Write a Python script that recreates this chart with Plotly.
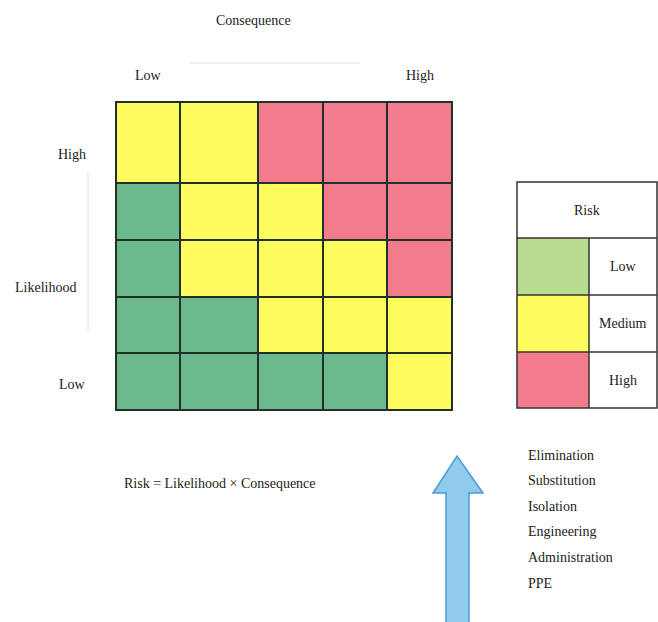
import plotly.graph_objects as go

# ---------------- data ----------------
consequence_levels = ["Low", "", "", "", "High"]          # left -> right
likelihood_levels = ["High", "", "", "", "Low"]           # top -> bottom
# risk rating of each cell, rows from High likelihood (top) to Low (bottom)
risk_grid = [
    ["Medium", "Medium", "High",   "High",   "High"],
    ["Low",    "Medium", "Medium", "High",   "High"],
    ["Low",    "Medium", "Medium", "Medium", "High"],
    ["Low",    "Low",    "Medium", "Medium", "Medium"],
    ["Low",    "Low",    "Low",    "Low",    "Medium"],
]
risk_levels = ["Low", "Medium", "High"]
controls = ["Elimination", "Substitution", "Isolation", "Engineering",
            "Administration", "PPE"]
formula = "Risk = Likelihood × Consequence"

# ---------------- layout constants (page pixels) ----------------
W, H = 658, 622
col_edges = [116, 180, 258, 323, 387, 452]
row_edges = [102, 183, 240, 297, 353, 410]
leg_x = [517, 589, 657]
leg_y = [182, 238, 295, 352, 408]

FONT = "Liberation Serif"
TXT = "#222222"
matrix_colors = {"Low": "#6db98e", "Medium": "#fefc5e", "High": "#f27b8e"}
legend_colors = {"Low": "#b9dc8e", "Medium": "#fefc5e", "High": "#f27b8e"}

code = {lvl: i for i, lvl in enumerate(risk_levels)}
z = [[code[v] for v in row] for row in risk_grid]

def scale(cmap):
    return [[0.0, cmap["Low"]], [0.5, cmap["Medium"]], [1.0, cmap["High"]]]

fig = go.Figure()

fig.add_trace(go.Heatmap(
    x=col_edges, y=row_edges, z=z, zmin=0, zmax=2,
    colorscale=scale(matrix_colors), showscale=False,
    xgap=2, ygap=2, hoverinfo="skip",
))

fig.add_trace(go.Heatmap(
    x=leg_x[:2], y=leg_y[1:], z=[[code[l]] for l in risk_levels],
    zmin=0, zmax=2, colorscale=scale(legend_colors), showscale=False,
    hoverinfo="skip",
))

shapes = []
shapes.append(dict(type="rect", layer="below", x0=col_edges[0] - 1, x1=col_edges[-1] + 1,
                   y0=row_edges[0] - 1, y1=row_edges[-1] + 1,
                   fillcolor="#23302a", line=dict(width=0)))
LC = "#333333"
shapes.append(dict(type="rect", x0=leg_x[0], x1=leg_x[2], y0=leg_y[0], y1=leg_y[-1],
                   line=dict(color=LC, width=1.5)))
for yy in leg_y[1:-1]:
    shapes.append(dict(type="line", x0=leg_x[0], x1=leg_x[2], y0=yy, y1=yy,
                       line=dict(color=LC, width=1.5)))
shapes.append(dict(type="line", x0=leg_x[1], x1=leg_x[1], y0=leg_y[1], y1=leg_y[-1],
                   line=dict(color=LC, width=1.5)))
shapes.append(dict(type="line", x0=190, x1=360, y0=63, y1=63,
                   line=dict(color="#dcdcdc", width=1)))
shapes.append(dict(type="line", x0=88, x1=88, y0=172, y1=333,
                   line=dict(color="#e4e4e4", width=1)))
shapes.append(dict(type="path",
                   path="M 446 625 L 446 493 L 433 493 L 457 456 L 483 493 L 469 493 L 469 625 Z",
                   fillcolor="#8ecbee", line=dict(color="#4b9bd6", width=1.5)))

ann = []
def t(x, y, s, xa="center", size=14):
    ann.append(dict(x=x, y=y, text=s, showarrow=False, xanchor=xa, yanchor="middle",
                    font=dict(family=FONT, size=size, color=TXT)))

t(253, 20, "Consequence")
t(col_edges[0] + 32, 75, consequence_levels[0])
t(col_edges[-1] - 32, 75, consequence_levels[-1])
t(88, 154, likelihood_levels[0], xa="right")
t(13, 287, "Likelihood", xa="left")
t(88, 384, likelihood_levels[-1], xa="right")

t((leg_x[0] + leg_x[2]) / 2, (leg_y[0] + leg_y[1]) / 2, "Risk")
for i, lvl in enumerate(risk_levels):
    t((leg_x[1] + leg_x[2]) / 2, (leg_y[i + 1] + leg_y[i + 2]) / 2, lvl)

t(122, 483, formula, xa="left")
for i, c in enumerate(controls):
    t(526, 455 + i * 25.6, c, xa="left")

fig.update_layout(
    width=W, height=H, margin=dict(l=0, r=0, t=0, b=0),
    paper_bgcolor="white", plot_bgcolor="white",
    xaxis=dict(range=[0, W], visible=False, fixedrange=True),
    yaxis=dict(range=[H, 0], visible=False, fixedrange=True),
    shapes=shapes, annotations=ann, showlegend=False,
)

fig.write_html("out.html", config={"displayModeBar": False},
               post_script="document.body.style.margin='0';document.body.style.overflow='hidden';")
